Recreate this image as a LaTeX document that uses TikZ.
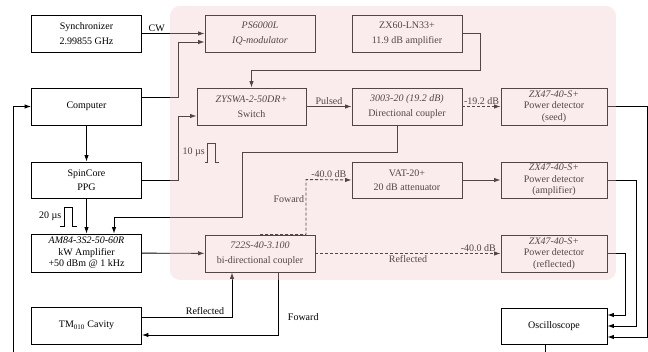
\documentclass[tikz,border=0pt]{standalone}
\usepackage{fontspec}
\setmainfont{Liberation Serif}
\usetikzlibrary{arrows.meta,calc}
\definecolor{pinkov}{RGB}{240,200,200}
\begin{document}
\begin{tikzpicture}[x=1pt,y=-1pt,
  bx/.style={draw, line width=0.9pt, minimum width=110pt, minimum height=37pt, inner sep=0pt, align=center, font=\fontsize{10}{14.5}\selectfont},
  bx3/.style={bx, font=\fontsize{10}{11.5}\selectfont},
  pd/.style={bx3, minimum width=106pt},
  ln/.style={line width=0.9pt},
  arr/.style={ln, -{Latex[length=6.5pt,width=4.5pt]}},
  darr/.style={arr, dash pattern=on 3pt off 2pt},
  lbl/.style={font=\fontsize{10}{12}\selectfont, inner sep=1.5pt}]
\useasboundingbox (0,0) rectangle (648,352);
% boxes
\node[bx] (sync) at (86.5,33.5) {Synchronizer\\2.99855 GHz};
\node[bx] (comp) at (86.5,106.5) {Computer};
\node[bx, minimum height=36pt] (ppg) at (86.5,180) {SpinCore\\PPG};
\node[bx3, minimum height=38pt] (amp) at (86.5,253) {\textit{AM84-3S2-50-60R}\\kW Amplifier\\+50 dBm @ 1 kHz};
\node[bx] (cav) at (86.5,325.5) {TM\textsubscript{010} Cavity};
\node[bx] (iq) at (260,33.5) {\textit{PS6000L}\\\textit{IQ-modulator}};
\node[bx] (lna) at (407,33.5) {ZX60-LN33+\\11.9 dB amplifier};
\node[bx, minimum width=109pt] (sw) at (251.5,106.5) {\textit{ZYSWA-2-50DR+}\\Switch};
\node[bx] (dc) at (407,106.5) {\textit{3003-20 (19.2 dB)}\\Directional coupler};
\node[pd] (pds) at (554,106.5) {\textit{ZX47-40-S+}\\Power detector\\(seed)};
\node[bx, minimum height=36pt] (vat) at (407,180) {VAT-20+\\20 dB attenuator};
\node[pd, minimum height=36pt] (pda) at (554,180) {\textit{ZX47-40-S+}\\Power detector\\(amplifier)};
\node[bx] (bd) at (260,253.5) {\textit{722S-40-3.100}\\bi-directional coupler};
\node[pd] (pdr) at (554,253.5) {\textit{ZX47-40-S+}\\Power detector\\(reflected)};
\node[bx, minimum width=106pt, minimum height=36pt] (osc) at (554,326) {Oscilloscope};
\coordinate (bot) at (0,352);
\coordinate (lb) at (13,352);
% connectors
\draw[arr] (sync) -- (iq);
\node[lbl, anchor=south west] (cw) at ([xshift=5pt]sync.east) {CW};
\draw[arr] ([yshift=9pt]comp.east) -- ++(36.5,0) |- ([yshift=-8.5pt]iq.west);
\draw[arr] (ppg.east) -- ++(36.5,0) |- ([yshift=-9.5pt]sw.west);
\draw[arr] (lna.east) -- ++(17.5,0) -- ++(0,36.5) -| (sw.north);
\draw[arr] (sw) -- node[lbl, above] {Pulsed} (dc);
\draw[darr] (dc) -- node[lbl, above] {-19.2 dB} (pds);
\draw[arr] ([xshift=-10pt]dc.south) -- ++(0,27) -- ++(-155,0) -- ++(0,65) -| ([xshift=27.5pt]amp.north);
\draw[arr] (comp) -- (ppg);
\draw[arr] (ppg) -- (amp);
\draw[arr] (amp) -- (bd);
\draw[white, line width=1.4pt] (bd.north) -- ++(46,0);
\draw[darr] (bd.north) -- ++(46,0) -- node[lbl, left, pos=0.65] {Foward} ++(0,-55) -- node[lbl, above] {-40.0 dB} (vat.west);
\draw[darr] (bd) -- node[lbl, below] {Reflected} node[lbl, above, pos=0.88] {-40.0 dB} (pdr);
\draw[arr] (vat) -- (pda);
\draw[arr] (pds.east) -- ++(40,0) |- ([yshift=-11pt]osc.east);
\draw[arr] (pda.east) -- ++(29,0) |- (osc.east);
\draw[arr] (pdr.east) -- ++(18,0) |- ([yshift=11pt]osc.east);
\draw[ln] ([xshift=-9pt]osc.south) -- ([xshift=-9pt]osc.south |- bot);
\draw[arr] (lb) |- (comp.west);
\draw[arr] ([yshift=8.5pt]cav.east) -| node[lbl, above, pos=0.35] {Reflected} ([xshift=-28pt]bd.south);
\draw[arr] ([xshift=18pt]bd.south) |- node[lbl, right=8pt, pos=0.36] {Foward} ([yshift=-9.5pt]cav.east);
% pulses
\node[lbl, anchor=east, inner sep=0.5pt] (t10) at (205.5,152) {10 µs};
\draw[ln, line width=0.8pt] (205,162) -- (207,162) -- (207,143) -- (215,143) -- (215,162) -- (219,162);
\node[lbl, anchor=east, inner sep=0.5pt] (t20) at (62,216) {20 µs};
\draw[ln, line width=0.8pt] (60,226) -- (64,226) -- (64,207) -- (72,207) -- (72,226) -- (77,226);
% pink panel overlay
\fill[pinkov, fill opacity=0.35, rounded corners=10pt] (170,6) rectangle (616,280);
\end{tikzpicture}
\end{document}
